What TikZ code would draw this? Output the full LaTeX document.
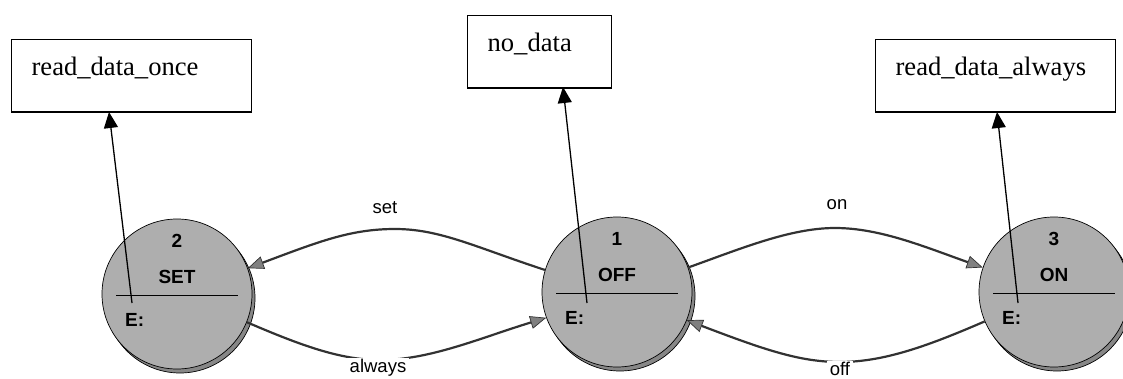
\documentclass[tikz,border=0pt]{standalone}
\usepackage{fontspec}
\setmainfont{Liberation Serif}
\setsansfont{Liberation Sans}
\usetikzlibrary{arrows.meta,shadows,calc}
\definecolor{stfill}{RGB}{174,174,174}
\definecolor{stshadow}{RGB}{135,135,135}
\definecolor{edgec}{RGB}{50,50,50}
\definecolor{tipgray}{RGB}{128,128,128}
\begin{document}
\begin{tikzpicture}[x=1pt,y=-1pt,
  actbox/.style={draw=black, line width=1.2pt, anchor=north west, inner xsep=20pt, inner ysep=0pt,
    text height=35.5pt, text depth=37pt, align=left,
    font=\fontsize{26.6}{30}\selectfont},
  stnode/.style={circle, draw=black, line width=0.7pt, fill=stfill, minimum size=150pt, inner sep=0pt,
    copy shadow={shadow xshift=3pt, shadow yshift=-4pt, fill=stshadow, draw=black, line width=0.7pt}},
  sttxt/.style={font=\sffamily\bfseries\fontsize{19}{22}\selectfont, inner sep=1pt},
  divline/.style={draw=black, line width=0.8pt},
  trans/.style={draw=edgec, line width=2.2pt,
    -{Triangle[length=16pt,width=13pt,color=edgec,fill=tipgray,line width=0.7pt]}},
  actarrow/.style={draw=black, line width=1.3pt, -{Triangle[length=16pt,width=14pt]}},
  lbl/.style={font=\sffamily\fontsize{18.5}{22}\selectfont, inner sep=1pt},
  lblw/.style={lbl, fill=white, inner xsep=3pt}]
\useasboundingbox (0,0) rectangle (1123,379);
\clip (0,0) rectangle (1123,379);

% action boxes
\node[actbox, text width=200pt] (rd1) at (11,39) {read\_data\_once};
\node[actbox, text width=104pt] (rd0) at (467,15) {no\_data};
\node[actbox, text width=200pt] (rd3) at (875,39) {read\_data\_always};

% states
\node[stnode] (set) at (177,294) {};
\node[stnode] (off) at (617,292) {};
\node[stnode] (on)  at (1054,292) {};

\foreach \s/\n/\t in {set/2/SET, off/1/OFF, on/3/ON}{
  \node[sttxt] (\s num) at ($(\s)+(0,-53)$) {\n};
  \node[sttxt] (\s name) at ($(\s)+(0,-17)$) {\t};
  \node[sttxt, anchor=west] (\s ent) at ($(\s)+(-53,26)$) {E:};
  \draw[divline] ($(\s)+(-61,1)$) -- ($(\s)+(61,1)$);
}

% entry action arrows
\coordinate (e2) at (132,303);
\coordinate (e1) at (587,303);
\coordinate (e3) at (1018,303);
\coordinate (t2) at (109,112);
\coordinate (t1) at (563,87);
\coordinate (t3) at (997,112);
\draw[actarrow] (e2) -- (t2);
\draw[actarrow] (e1) -- (t1);
\draw[actarrow] (e3) -- (t3);

% transitions
\draw[trans] (off.163) .. controls (475,247) and (440,229) .. (395,229)
  .. controls (350,229) and (318,242) .. (set.20);
\draw[trans] (off.19) .. controls (740,249) and (790,228) .. (835,228)
  .. controls (880,228) and (925,247) .. (on.161);
\draw[trans] (set.-22) .. controls (300,345) and (340,360) .. (380,360)
  .. controls (430,360) and (480,338) .. (off.200);
\draw[trans] (on.203) .. controls (930,345) and (885,362) .. (840,362)
  .. controls (800,362) and (765,350) .. (off.-22);

% labels
\node[lbl] (lset) at (385,208) {set};
\node[lbl] (lon) at (837,205) {on};
\node[lblw] (lalw) at (378,368) {always};
\node[lblw] (loff) at (840,369) {off};
\end{tikzpicture}
\end{document}
